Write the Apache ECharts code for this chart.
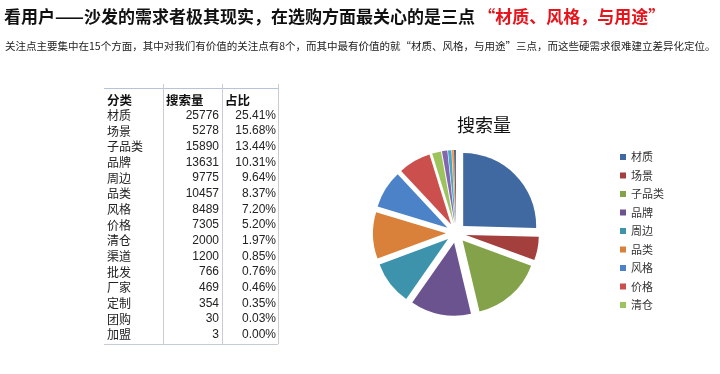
<!DOCTYPE html>
<html><head><meta charset="utf-8">
<script src="https://cdn.jsdelivr.net/npm/echarts@6/dist/echarts.min.js"></script>
<style>html,body{margin:0;padding:0;background:#fff}#c{width:720px;height:374px}</style>
</head><body><div id="c"></div>
<script>
const categories = ['材质','场景','子品类','品牌','周边','品类','风格','价格','清仓','渠道','批发','厂家','定制','团购','加盟'];
const searchVolume = [25776,5278,15890,13631,9775,10457,8489,7305,2000,1200,766,469,354,30,3];
const shareLabels = ['25.41%','15.68%','13.44%','10.31%','9.64%','8.37%','7.20%','5.20%','1.97%','0.85%','0.76%','0.46%','0.35%','0.03%','0.00%'];
const tableHeader = ['分类','搜索量','占比'];
const legendItems = categories.slice(0, 9);
const colors = ['#3F69A0','#A33F3D','#83A24A','#6B5390','#3E93AC','#D9803A','#4C82C7','#CB4F4D','#9DC35E','#8466AE','#48A9C6','#F59B54','#2C4D75','#772C2A','#5F7530'];
const mainTitle = '看用户——沙发的需求者极其现实，在选购方面最关心的是三点';
const mainTitleRed = '“材质、风格，与用途”';
const subTitle = '关注点主要集中在15个方面，其中对我们有价值的关注点有8个，而其中最有价值的就“材质、风格，与用途”三点，而这些硬需求很难建立差异化定位。';
const pieTitle = '搜索量';

const chart = echarts.init(document.getElementById('c'));
const font = '"Noto Sans CJK SC", "Noto Sans", sans-serif';
const numFont = '"Liberation Sans", Arial, sans-serif';

const graphics = [];
graphics.push({type:'text', left:4, top:8, style:{
  text:'{a|'+mainTitle+'} {b|'+mainTitleRed+'}',
  rich:{a:{fontSize:17, fontWeight:'bold', fill:'#111', fontFamily:font},
        b:{fontSize:17, fontWeight:'bold', fill:'#E8141B', fontFamily:font}}
}});
graphics.push({type:'text', left:5, top:41, style:{text:subTitle, fontSize:10.5, fill:'#222', fontFamily:font}});

// table
const tLeft = 104, tRight = 278, tTop = 88, tBottom = 344;
const colX = [163, 222];
const lineStyle = {stroke:'#C8CCD4', lineWidth:1};
graphics.push({type:'line', shape:{x1:tLeft, y1:tTop+0.5, x2:tRight, y2:tTop+0.5}, style:{stroke:'#B7C3D8', lineWidth:1}});
graphics.push({type:'line', shape:{x1:tLeft, y1:tBottom+0.5, x2:tRight, y2:tBottom+0.5}, style:lineStyle});
[colX[0], colX[1], tRight].forEach(x => graphics.push({type:'line', shape:{x1:x+0.5, y1:tTop-4, x2:x+0.5, y2:tBottom}, style:lineStyle}));
const headY = 100;
graphics.push({type:'text', x:107, y:headY, style:{text:tableHeader[0], fontSize:12.5, fontWeight:'bold', fill:'#111', fontFamily:font, verticalAlign:'middle'}});
graphics.push({type:'text', x:166, y:headY, style:{text:tableHeader[1], fontSize:12.5, fontWeight:'bold', fill:'#111', fontFamily:font, verticalAlign:'middle'}});
graphics.push({type:'text', x:225, y:headY, style:{text:tableHeader[2], fontSize:12.5, fontWeight:'bold', fill:'#111', fontFamily:font, verticalAlign:'middle'}});
categories.forEach((c, i) => {
  const y = 115.5 + i * 15.65;
  graphics.push({type:'text', x:107, y:y, style:{text:c, fontSize:12, fill:'#222', fontFamily:font, verticalAlign:'middle'}});
  graphics.push({type:'text', x:219, y:y, style:{text:String(searchVolume[i]), fontSize:12, fill:'#222', fontFamily:numFont, align:'right', verticalAlign:'middle'}});
  graphics.push({type:'text', x:276, y:y, style:{text:shareLabels[i], fontSize:12, fill:'#222', fontFamily:numFont, align:'right', verticalAlign:'middle'}});
});
graphics.push({type:'text', x:484, y:125, style:{text:pieTitle, fontSize:18, fill:'#111', fontFamily:font, align:'center', verticalAlign:'middle'}});

chart.setOption({
  animation:false,
  color:colors,
  graphic:graphics,
  legend:{
    orient:'vertical', left:620, top:151, data:legendItems, icon:'rect',
    itemWidth:6, itemHeight:6, itemGap:6.5, padding:0,
    textStyle:{fontSize:11, color:'#333', fontFamily:font, lineHeight:12},
    selectedMode:false
  },
  series:[{
    type:'pie', center:[456,233], radius:73, startAngle:90, clockwise:true,
    selectedMode:'multiple', selectedOffset:10, label:{show:false}, labelLine:{show:false},
    emphasis:{disabled:true}, silent:true,
    data:categories.map((c,i)=>({name:c, value:searchVolume[i], selected:true}))
  }]
});
</script></body></html>
